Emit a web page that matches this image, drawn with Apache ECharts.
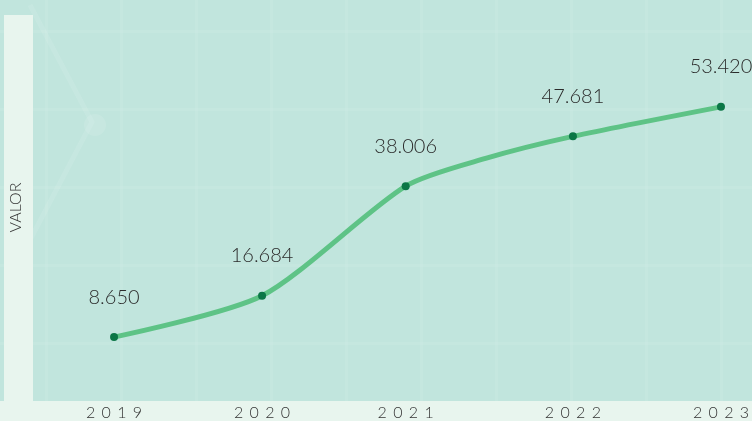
<!DOCTYPE html>
<html>
<head>
<meta charset="utf-8">
<script src="https://cdn.jsdelivr.net/npm/echarts@6/dist/echarts.min.js"></script>
<style>
  html, body { margin: 0; padding: 0; }
  #wrap { position: relative; width: 752px; height: 421px; overflow: hidden; background: #c1e5dd; }
  .grade {
    position: absolute; left: 0; top: 0; width: 752px; height: 421px;
    background-image:
      linear-gradient(to right, rgba(255,255,255,0.06) 3px, transparent 3px),
      linear-gradient(to bottom, rgba(255,255,255,0.06) 3px, transparent 3px);
    background-size: 75px 78px;
    background-position: 45px 30px;
  }
  .faixa { position: absolute; background: #e8f5ee; }
  #chart { position: absolute; left: 0; top: 0; width: 752px; height: 421px; }
</style>
</head>
<body>
<div id="wrap">
  <div class="grade"></div>
  <svg width="752" height="421" style="position:absolute;left:0;top:0">
    <polyline points="30,5 92,122 30,240" fill="none" stroke="#ffffff" stroke-opacity="0.09" stroke-width="5"/>
    <circle cx="95" cy="125" r="11" fill="#ffffff" fill-opacity="0.1"/>
  </svg>
  <div class="faixa" style="left:4px;top:15px;width:29px;height:386px"></div>
  <div class="faixa" style="left:0;top:401px;width:752px;height:20px"></div>
  <div id="chart"></div>
</div>
<script>
// anos e valores mostrados no gráfico
const anos = ["2019", "2020", "2021", "2022", "2023"];
const valores = [8650, 16684, 38006, 47681, 53420];
// posição de cada ano no eixo temporal (anos decimais, estimados da imagem)
const posicaoAnos = [2019.0, 2020.0, 2020.97, 2022.1, 2023.1];
// ponto intermediário sem marcador entre 2021 e 2022
const pontoMeio = [2021.51, 43400];

const fmtValor = (v) => String(v).replace(/\B(?=(\d{3})+(?!\d))/g, ".");
const espacar = (s) => s.split("").join(" \u2009");

const dados = [];
posicaoAnos.forEach((x, i) => {
  dados.push({ value: [x, valores[i]], label: { show: true } });
  if (i === 2) dados.push({ value: pontoMeio, symbol: "none", label: { show: false } });
});

const chart = echarts.init(document.getElementById("chart"));
chart.setOption({
  animation: false,
  grid: { left: 34, right: 0, top: 0, bottom: 20 },
  xAxis: {
    type: "value",
    min: 2018.466,
    max: 2023.287,
    axisLine: { show: false },
    axisTick: { show: false },
    splitLine: { show: false },
    axisLabel: {
      customValues: posicaoAnos,
      formatter: (v) => {
        let k = 0;
        posicaoAnos.forEach((p, i) => { if (Math.abs(p - v) < Math.abs(posicaoAnos[k] - v)) k = i; });
        return espacar(anos[k]);
      },
      color: "#333",
      fontSize: 16,
      fontWeight: 300,
      fontFamily: "Lato",
      margin: 8
    }
  },
  yAxis: {
    type: "value",
    min: -3000,
    max: 74200,
    axisLine: { show: false },
    axisTick: { show: false },
    axisLabel: { show: false },
    splitLine: { show: false },
    name: "VALOR",
    nameLocation: "middle",
    nameRotate: 90,
    nameGap: 11,
    nameTextStyle: { color: "#333", fontSize: 16, fontWeight: 300, fontFamily: "Lato", padding: [0, 18, 0, 0] }
  },
  series: [{
    type: "line",
    data: dados,
    smooth: 0.25,
    symbol: "circle",
    symbolSize: 8,
    lineStyle: { color: "#5ec386", width: 5 },
    itemStyle: { color: "#0b7646" },
    label: {
      position: "top",
      distance: 26,
      color: "#2b2b2b",
      fontSize: 20,
      fontWeight: 300,
      fontFamily: "Lato",
      formatter: (p) => fmtValor(p.value[1])
    }
  }]
});
</script>
</body>
</html>
